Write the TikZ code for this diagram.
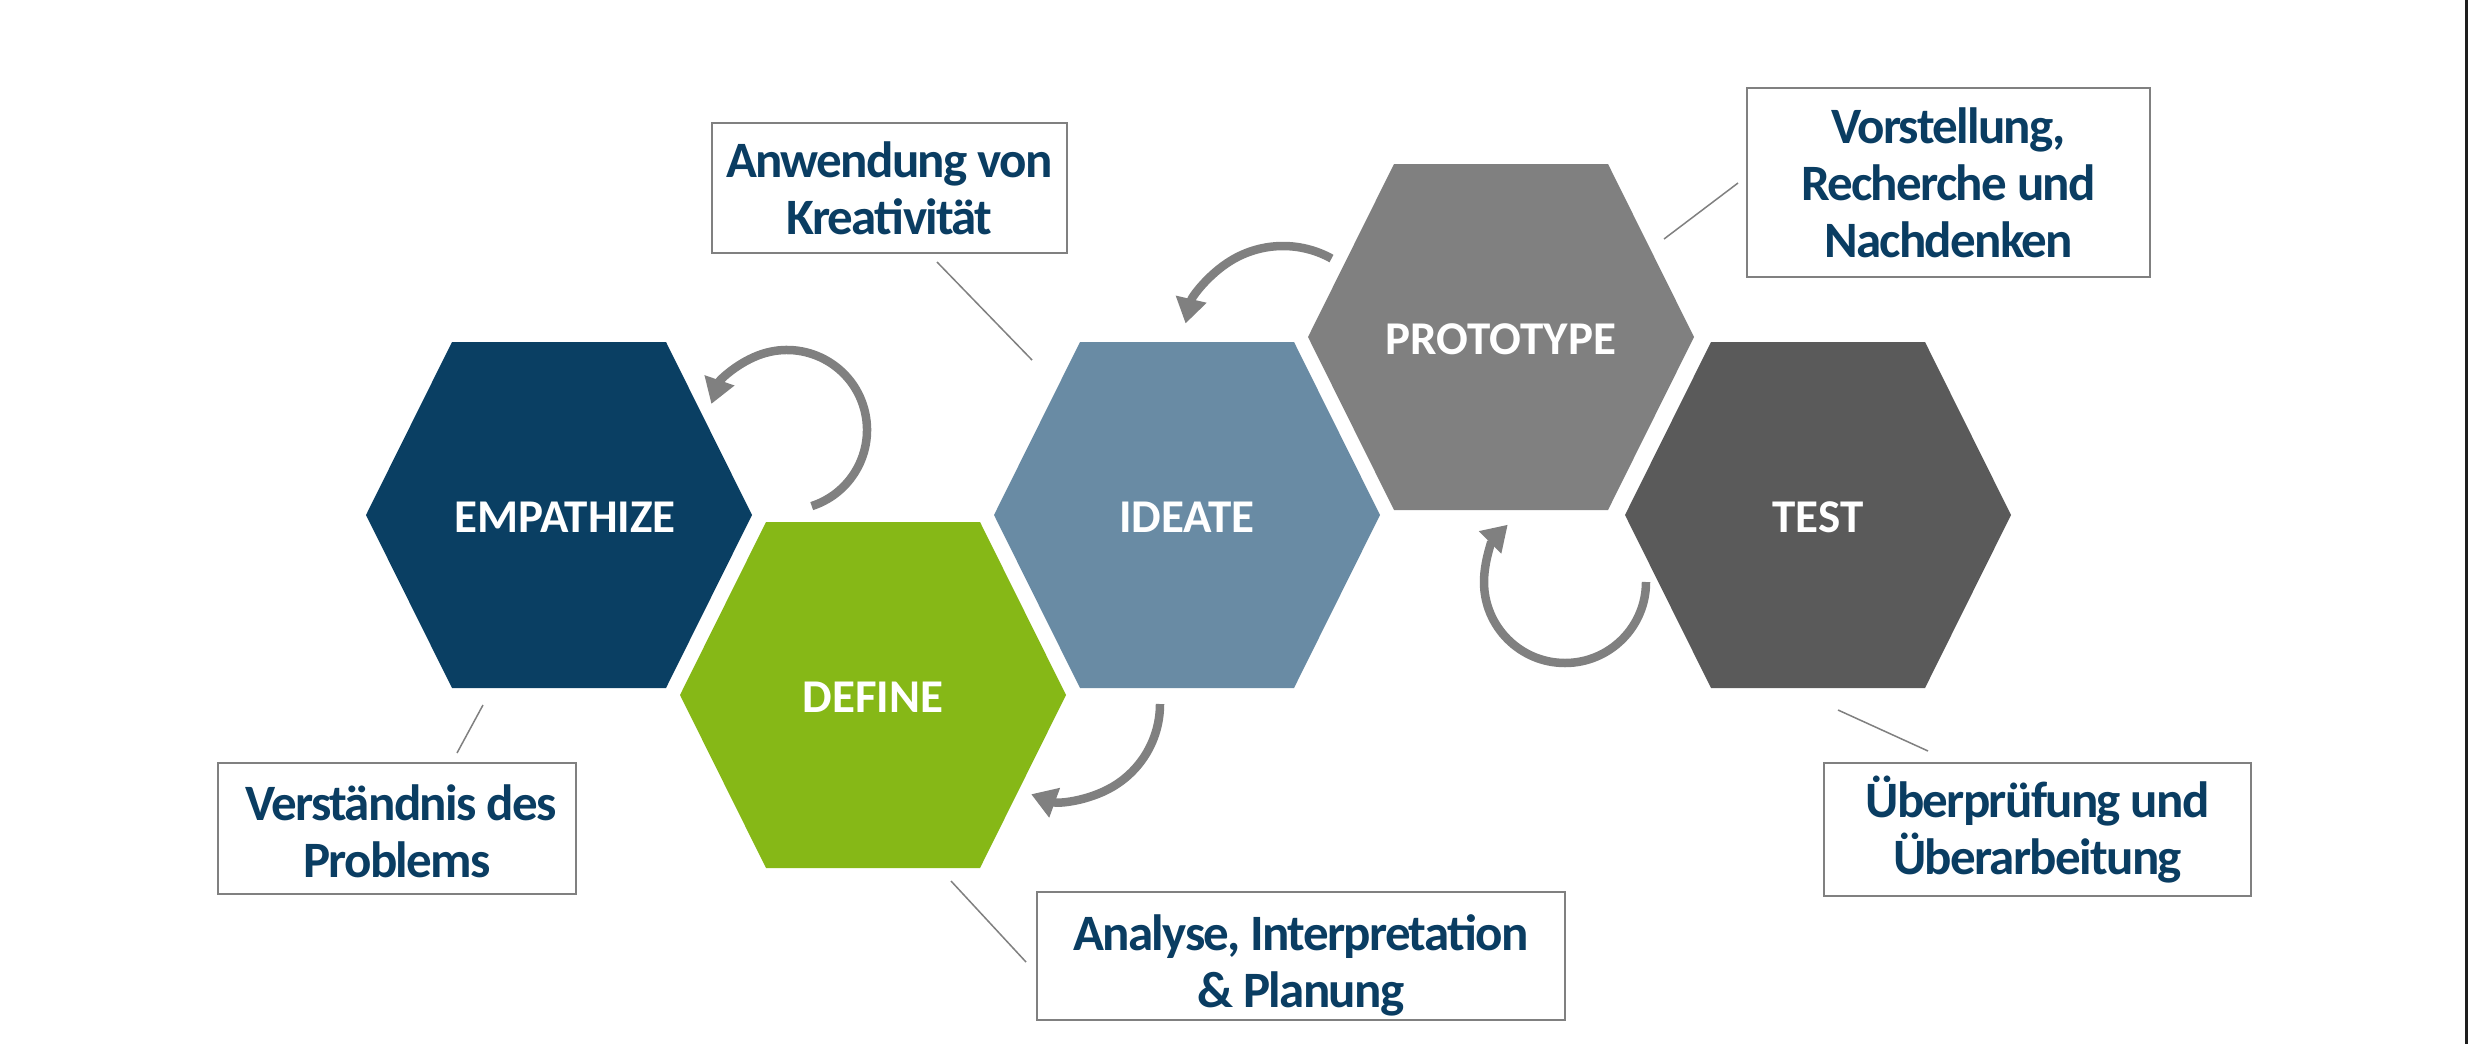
\documentclass[tikz,border=0pt]{standalone}
\usepackage{fontspec}
\setmainfont{Carlito}
\newfontfamily\boxfont{Carlito}[LetterSpace=-3.3]
\usetikzlibrary{arrows.meta,calc}
\definecolor{empblue}{RGB}{10,63,99}
\definecolor{defgreen}{RGB}{134,184,23}
\definecolor{ideblue}{RGB}{105,139,164}
\definecolor{progray}{RGB}{128,128,128}
\definecolor{tstgray}{RGB}{90,90,90}
\definecolor{linegray}{RGB}{128,128,128}
\definecolor{txtblue}{RGB}{10,61,98}
\definecolor{edgedark}{RGB}{30,30,30}
\tikzset{
  hexlabel/.style={text=white, font=\fontsize{47}{56}\selectfont\bfseries, anchor=base, inner sep=0pt},
  labelbox/.style={draw=linegray, line width=1.5pt, fill=white, text=txtblue, align=center,
    font=\boxfont\fontsize{51}{57}\selectfont\bfseries, inner sep=0pt},
  leader/.style={draw=linegray, line width=1.5pt},
  looparrow/.style={draw=progray, line width=8.5pt, -{Triangle[length=25pt,width=30pt]}},
}
\newcommand\hexfill[2]{\fill[#2] ($(#1)+(-193,0)$) -- ++(86,-173) -- ++(214,0) -- ++(86,173) -- ++(-86,173) -- ++(-214,0) -- cycle;}
\begin{document}
\begin{tikzpicture}[x=1pt,y=-1pt]
\useasboundingbox (0,0) rectangle (2468,1044);
\fill[white] (0,0) rectangle (2468,1044);
\fill[edgedark] (2465,0) rectangle (2468,1044);

% hexagon centres
\coordinate (cE) at (559,515);
\coordinate (cD) at (873,695);
\coordinate (cI) at (1187,515);
\coordinate (cP) at (1501,337);
\coordinate (cT) at (1818,515);

\hexfill{cE}{empblue}
\hexfill{cD}{defgreen}
\hexfill{cI}{ideblue}
\hexfill{cP}{progray}
\hexfill{cT}{tstgray}

\node[hexlabel] (emp) at (565,532) {EMPATHIZE};
\node[hexlabel] (def) at (873,712) {DEFINE};
\node[hexlabel] (ide) at (1187,532) {IDEATE};
\node[hexlabel] (pro) at (1501,354) {PROTOTYPE};
\node[hexlabel] (tst) at (1818,532) {TEST};

% label boxes
\node[labelbox, minimum width=355pt, minimum height=130pt] (bIde) at (889.5,188) {Anwendung von\\Kreativität};
\node[labelbox, minimum width=358pt, minimum height=131pt] (bEmp) at (397,828.5) {\rule{0pt}{42pt}\hspace*{8pt}Verständnis des\\Problems};
\node[labelbox, minimum width=403pt, minimum height=189pt] (bPro) at (1948.5,182.5) {Vorstellung,\\Recherche und\\Nachdenken};
\node[labelbox, minimum width=528pt, minimum height=128pt] (bDef) at (1301,956) {\rule{0pt}{54pt}Analyse, Interpretation\\\& Planung};
\node[labelbox, minimum width=427pt, minimum height=133pt] (bTst) at (2037.5,829.5) {\rule{0pt}{42pt}Überprüfung und\\Überarbeitung};

% leader lines
\coordinate (lIa) at (937,262);  \coordinate (lIb) at (1032,360);
\coordinate (lEa) at (457,753);  \coordinate (lEb) at (483,705);
\coordinate (lPa) at (1738,183); \coordinate (lPb) at (1664,239);
\coordinate (lDa) at (1026,962); \coordinate (lDb) at (951,881);
\coordinate (lTa) at (1928,751); \coordinate (lTb) at (1838,710);
\draw[leader] (lIa) -- (lIb);
\draw[leader] (lEa) -- (lEb);
\draw[leader] (lPa) -- (lPb);
\draw[leader] (lDa) -- (lDb);
\draw[leader] (lTa) -- (lTb);

% loop arrows
\coordinate (a1) at ($(787,430)+(72:80)$);
\draw[looparrow] (a1) arc[start angle=72, end angle=-161, radius=80];
\coordinate (a2) at ($(1064,704)+(0:96)$);
\draw[looparrow] (a2) arc[start angle=0, end angle=110, radius=96];
\coordinate (a3) at ($(1283,346)+(-61:100)$);
\draw[looparrow] (a3) arc[start angle=-61, end angle=-167, radius=100];
\coordinate (a4) at ($(1565,582)+(0:81)$);
\draw[looparrow] (a4) arc[start angle=0, end angle=225, radius=81];
\end{tikzpicture}
\end{document}
